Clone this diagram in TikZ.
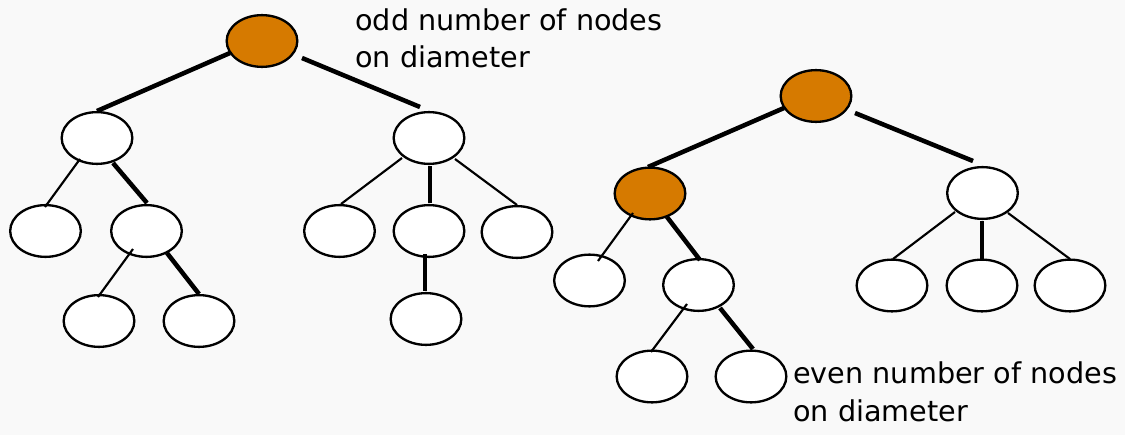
\documentclass[tikz,border=0pt]{standalone}
\usepackage{fontspec}
\setmainfont{DejaVu Sans}
\usetikzlibrary{shapes.geometric}
\definecolor{bgcol}{HTML}{F9F9F9}
\definecolor{diamfill}{HTML}{D67A00}
\tikzset{
  tnode/.style={ellipse, draw=black, line width=1.75pt, fill=white,
    minimum width=53pt, minimum height=38.8pt, inner sep=0pt},
  dnode/.style={tnode, fill=diamfill},
  thin edge/.style={line width=1.6pt, line cap=butt},
  thick edge/.style={line width=3.4pt, line cap=butt},
  label text/.style={anchor=base west, inner sep=0pt, align=left,
    font=\fontsize{21.5pt}{28pt}\selectfont}
}
\begin{document}
\begin{tikzpicture}[x=0.75pt, y=-0.75pt]
\fill[bgcol] (0,0) rectangle (1125,435);
\useasboundingbox (0,0) rectangle (1125,435);

% ---- tree 1 ----
\node[dnode] (r1)  at (262,41) {};
\node[tnode] (L)   at (97,138) {};
\node[tnode] (R)   at (429,138) {};
\node[tnode] (LL)  at (45.5,231) {};
\node[tnode] (LR)  at (146.5,231) {};
\node[tnode] (LRL) at (99,321) {};
\node[tnode] (LRR) at (199,321) {};
\node[tnode] (RL)  at (339.5,231) {};
\node[tnode] (RM)  at (429,231) {};
\node[tnode] (RR)  at (517,232) {};
\node[tnode] (RMM) at (426,319) {};

\draw[thick edge] ([shift={(-32,12)}]r1.center) -- ([shift={(0,-27)}]L.center);
\draw[thick edge] ([shift={(40,17)}]r1.center) -- ([shift={(-9,-31)}]R.center);
\draw[thin edge]  ([shift={(-17,21)}]L.center) -- ([shift={(-0.5,-24)}]LL.center);
\draw[thick edge] ([shift={(16,25)}]L.center) -- ([shift={(0.5,-28)}]LR.center);
\draw[thin edge]  ([shift={(-13.5,18)}]LR.center) -- ([shift={(-1,-24)}]LRL.center);
\draw[thick edge] ([shift={(20.5,22)}]LR.center) -- ([shift={(0,-27)}]LRR.center);
\draw[thin edge]  ([shift={(-27,20)}]R.center) -- ([shift={(1.5,-27)}]RL.center);
\draw[thick edge] ([shift={(1,28)}]R.center) -- ([shift={(1,-28)}]RM.center);
\draw[thin edge]  ([shift={(26,21)}]R.center) -- ([shift={(0,-27)}]RR.center);
\draw[thick edge] ([shift={(-4,23)}]RM.center) -- ([shift={(-1,-28)}]RMM.center);

% ---- tree 2 ----
\node[dnode] (r2)  at (816,96) {};
\node[dnode] (A)   at (650,193.5) {};
\node[tnode] (B)   at (982.5,193) {};
\node[tnode] (AL)  at (589.5,280.5) {};
\node[tnode] (AR)  at (698.5,285) {};
\node[tnode] (ARL) at (652,376.5) {};
\node[tnode] (ARR) at (751,376.5) {};
\node[tnode] (BL)  at (892,285.5) {};
\node[tnode] (BM)  at (982,285.5) {};
\node[tnode] (BR)  at (1070,285.5) {};

\draw[thick edge] ([shift={(-32,12)}]r2.center) -- ([shift={(-2,-26.5)}]A.center);
\draw[thick edge] ([shift={(39,17)}]r2.center) -- ([shift={(-9.5,-32)}]B.center);
\draw[thin edge]  ([shift={(-17,19.5)}]A.center) -- ([shift={(8.5,-19.5)}]AL.center);
\draw[thick edge] ([shift={(17,23.5)}]A.center) -- ([shift={(1.5,-25)}]AR.center);
\draw[thin edge]  ([shift={(-11.5,19)}]AR.center) -- ([shift={(-1,-24.5)}]ARL.center);
\draw[thick edge] ([shift={(21.5,23)}]AR.center) -- ([shift={(2,-27.5)}]ARR.center);
\draw[thin edge]  ([shift={(-27.5,19)}]B.center) -- ([shift={(1,-26.5)}]BL.center);
\draw[thick edge] ([shift={(-0.5,28)}]B.center) -- ([shift={(0,-26.5)}]BM.center);
\draw[thin edge]  ([shift={(25.5,20)}]B.center) -- ([shift={(0,-26.5)}]BR.center);

% ---- labels ----
\node[label text] (odd)  at (355,68)  {odd number of nodes\\on diameter};
\node[label text] (even) at (793,421) {even number of nodes\\on diameter};
\end{tikzpicture}
\end{document}
